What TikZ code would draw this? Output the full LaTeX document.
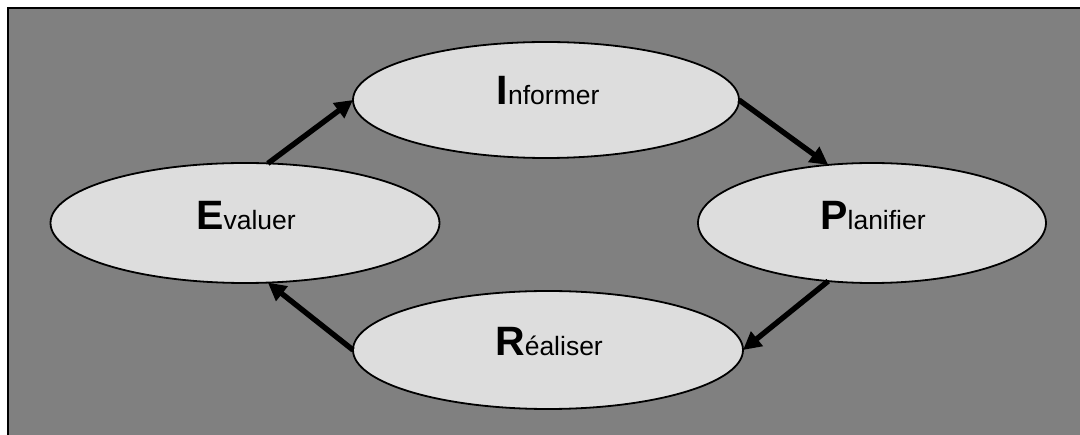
\documentclass[tikz,border=0pt]{standalone}
\usepackage{fontspec}
\setmainfont{Liberation Sans}
\usetikzlibrary{shapes.geometric,arrows.meta}
\definecolor{bggray}{RGB}{128,128,128}
\definecolor{ellfill}{RGB}{221,221,221}
\tikzset{
  stage/.style={ellipse, draw=black, line width=1.8pt, fill=ellfill, inner sep=0pt, outer sep=0pt},
  stagetext/.style={anchor=base, inner sep=0pt},
  flow/.style={line width=5.4pt, -{Triangle[length=18pt,width=18pt]}, black}
}
\newcommand{\bigfirst}[2]{{\fontsize{41}{41}\selectfont\bfseries #1}{\fontsize{26.5}{26.5}\selectfont #2}}
\begin{document}
\begin{tikzpicture}[x=1pt,y=-1pt]
\useasboundingbox (0,0) rectangle (1080,435);
\clip (0,0) rectangle (1080,435);
\draw[fill=bggray, line width=2.4pt] (8,8) rectangle (1095,450);
\node[stage, minimum width=386pt, minimum height=116pt] (inf) at (546,100) {};
\node[stage, minimum width=389pt, minimum height=120pt] (ev) at (245,223) {};
\node[stage, minimum width=348pt, minimum height=120pt] (pl) at (872,223) {};
\node[stage, minimum width=390pt, minimum height=118pt] (re) at (548,350) {};
\node[stagetext] (tinf) at (548,105) {\bigfirst{I}{nformer}};
\node[stagetext] (tev) at (246,230) {\bigfirst{E}{valuer}};
\node[stagetext] (tpl) at (873,230) {\bigfirst{P}{lanifier}};
\node[stagetext] (tre) at (549,356) {\bigfirst{R}{éaliser}};
\draw[flow] (ev.69) -- (inf.west);
\draw[flow] (inf.east) -- (pl.127);
\draw[flow] (pl.233) -- (re.east);
\draw[flow] (re.west) -- (ev.291);
\end{tikzpicture}
\end{document}
